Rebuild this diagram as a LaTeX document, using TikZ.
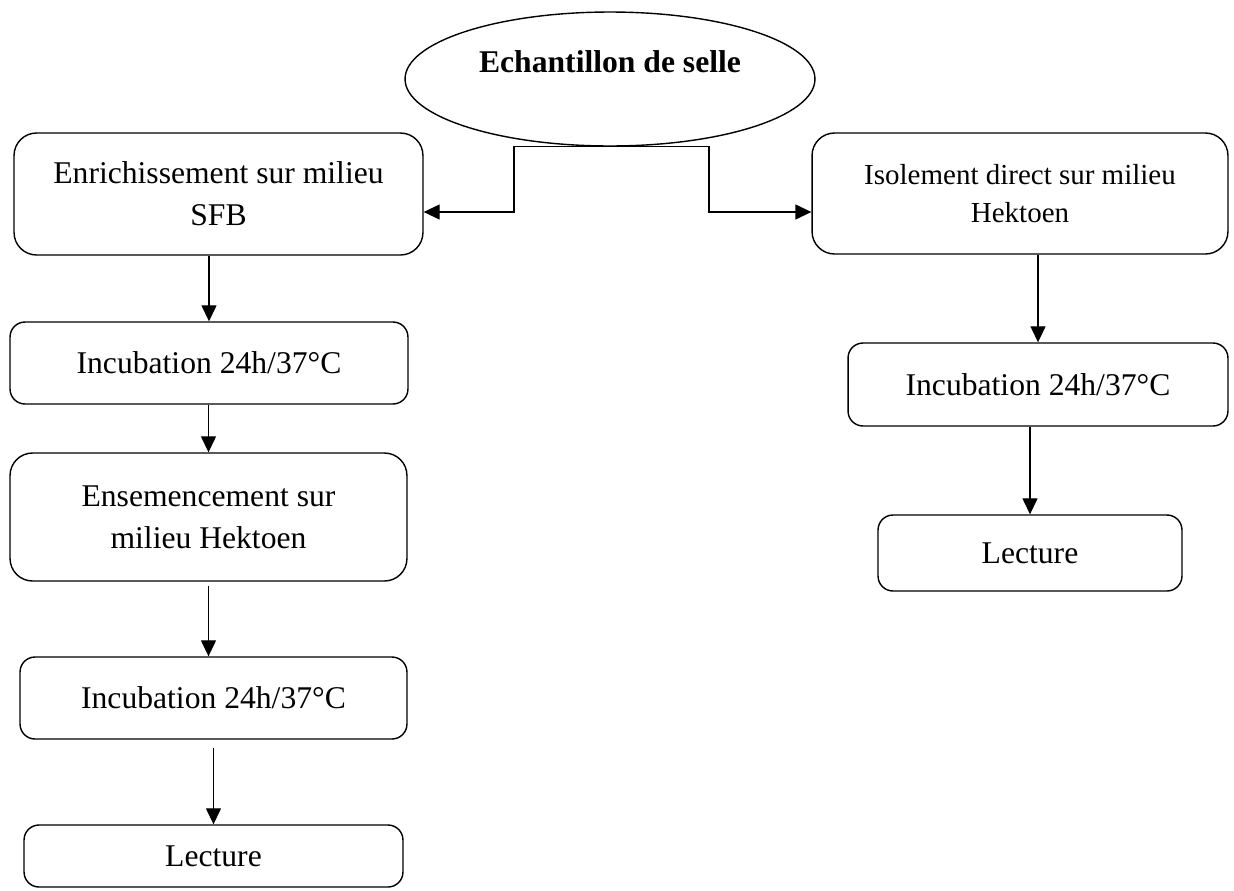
\documentclass[tikz,border=0pt]{standalone}
\usepackage{fontspec}
\setmainfont{Liberation Serif}
\usetikzlibrary{shapes,arrows.meta,positioning,calc}

\begin{document}
\begin{tikzpicture}[x=0.02cm, y=-0.02cm,
    etape/.style={draw, line width=0.8pt, rounded corners=0.45cm, align=center,
        inner sep=0pt, font=\fontsize{18}{24}\selectfont},
    petite/.style={rounded corners=0.3cm},
    fleche/.style={-{Triangle[length=0.32cm, width=0.3cm]}, line width=0.75pt}]
    \useasboundingbox (0,0) rectangle (1234,890);

    % Sample
    \node[ellipse, draw, line width=0.8pt, inner sep=0pt, minimum width=8.2cm,
        minimum height=2.68cm, text depth=0.7cm,
        font=\bfseries\fontsize{18}{22}\selectfont] (selle) at (610,79) {Echantillon de selle};

    % Left branch
    \node[etape, minimum width=8.18cm, minimum height=2.44cm] (enrich) at (218.5,194) {Enrichissement sur milieu\\SFB};
    \node[etape, petite, minimum width=7.96cm, minimum height=1.64cm] (incubA) at (209,363) {Incubation 24h/37°C};
    \node[etape, minimum width=7.94cm, minimum height=2.56cm] (ensem) at (208.5,517) {Ensemencement sur\\milieu Hektoen};
    \node[etape, petite, minimum width=7.74cm, minimum height=1.64cm] (incubB) at (213.5,698) {Incubation 24h/37°C};
    \node[etape, petite, minimum width=7.58cm, minimum height=1.24cm] (lectA) at (213.5,856) {Lecture};

    % Right branch
    \node[etape, minimum width=8.32cm, minimum height=2.42cm,
        font=\fontsize{16.5}{22}\selectfont] (isol) at (1020,193.5) {Isolement direct sur milieu\\Hektoen};
    \node[etape, petite, minimum width=7.6cm, minimum height=1.66cm] (incubC) at (1038,384.5) {Incubation 24h/37°C};
    \node[etape, petite, minimum width=6.08cm, minimum height=1.52cm] (lectB) at (1030,553) {Lecture};

    % Split from the sample
    \coordinate (jl) at (514,212);
    \coordinate (jr) at (709,212);
    \draw[fleche] (selle.south) -| (jl) -- (jl -| enrich.east);
    \draw[fleche] (selle.south) -| (jr) -- (jr -| isol.west);

    % Steps
    \draw[fleche] (enrich.south -| incubA) -- (incubA.north);
    \draw[fleche] (incubA.south -| ensem) -- (ensem.north);
    \draw[fleche, shorten <=0.08cm] (ensem.south) -- (ensem.south |- incubB.north);
    \draw[fleche, shorten <=0.16cm] (incubB.south) -- (lectA.north);
    \draw[fleche] (isol.south -| incubC) -- (incubC.north);
    \draw[fleche] (incubC.south -| lectB) -- (lectB.north);
\end{tikzpicture}
\end{document}
